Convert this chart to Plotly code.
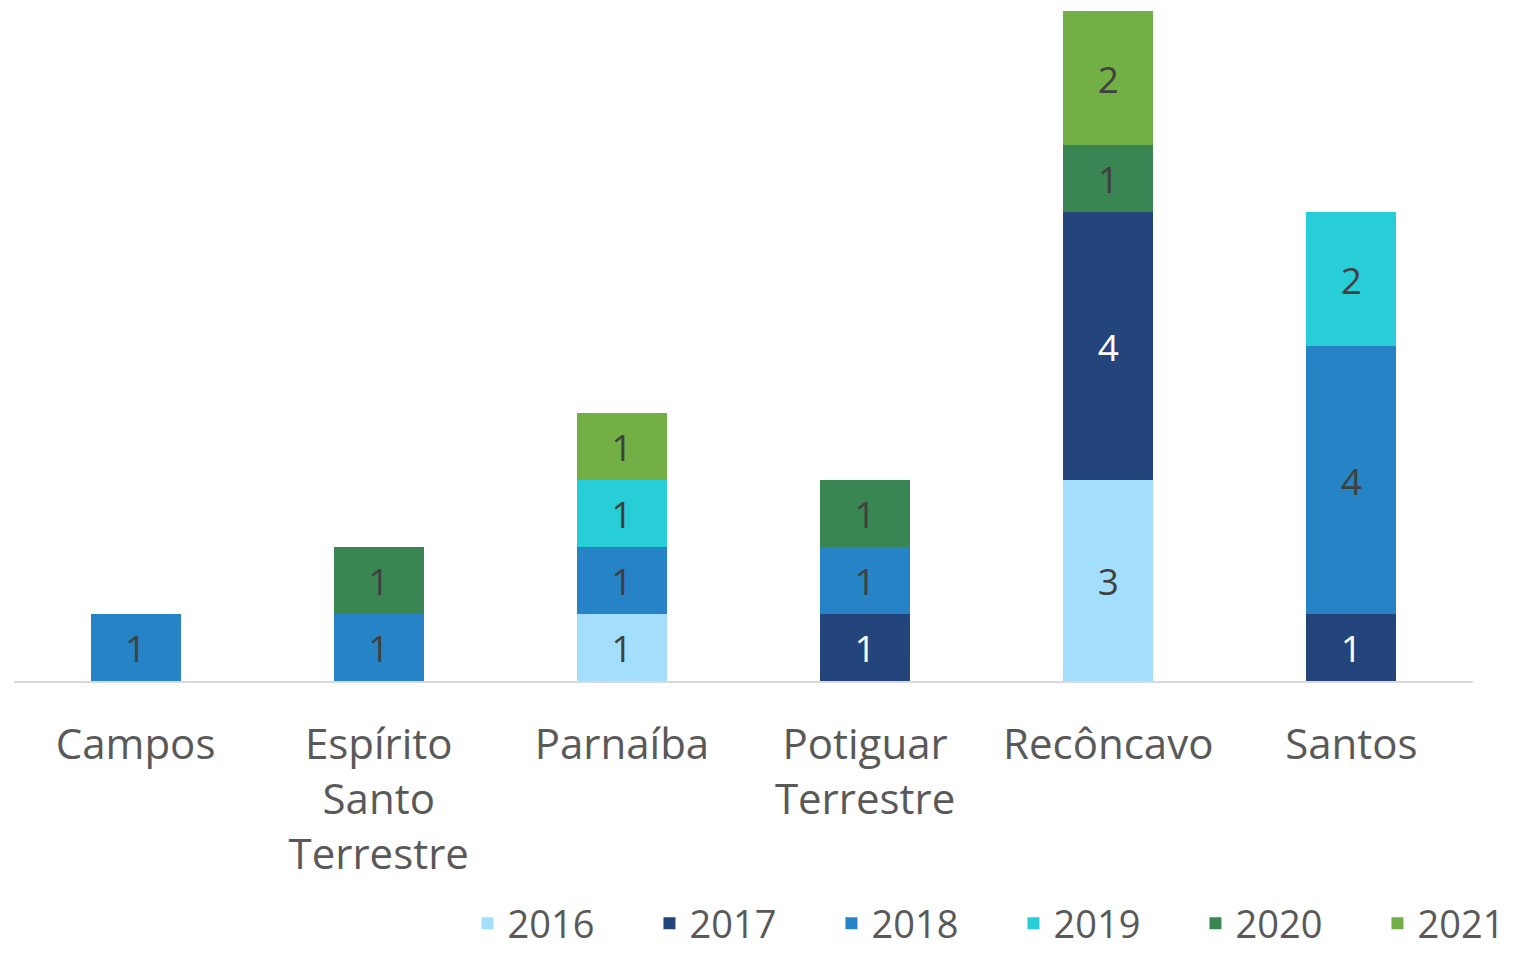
import plotly.graph_objects as go

categories = ["Campos", "Espírito<br>Santo<br>Terrestre", "Parnaíba", "Potiguar<br>Terrestre", "Recôncavo", "Santos"]
years = ["2016", "2017", "2018", "2019", "2020", "2021"]
v2016 = [None, None, 1, None, 3, None]
v2017 = [None, None, None, 1, 4, 1]
v2018 = [1, 1, 1, 1, None, 4]
v2019 = [None, None, 1, None, None, 2]
v2020 = [None, 1, None, 1, 1, None]
v2021 = [None, None, 1, None, 2, None]
series = [v2016, v2017, v2018, v2019, v2020, v2021]

colors = ["#A3DFFD", "#23457C", "#2683C6", "#27CED7", "#3A8653", "#72AF45"]
text_colors = ["#404040", "#FFFFFF", "#404040", "#404040", "#404040", "#404040"]

FONT = "Open Sans"
fig = go.Figure()
for name, vals, c, tc in zip(years, series, colors, text_colors):
    fig.add_trace(go.Bar(
        x=categories, y=vals, name=name,
        marker=dict(color=c, line=dict(width=0)),
        texttemplate="%{y}", textposition="inside", insidetextanchor="middle",
        textangle=0, constraintext="none",
        textfont=dict(family=FONT, size=37, color=tc),
    ))

fig.update_layout(
    barmode="stack", bargap=0.63,
    width=1506, height=947,
    margin=dict(l=6, r=41, t=3, b=274, autoexpand=False),
    paper_bgcolor="white", plot_bgcolor="white",
    font=dict(family=FONT, color="#595959"),
    showlegend=True,
    legend=dict(orientation="h", x=0.3108, xanchor="left", y=-0.362, yanchor="middle",
                font=dict(family=FONT, size=38, color="#595959"),
                traceorder="normal", entrywidth=137, entrywidthmode="pixels"),
    xaxis=dict(showline=True, linecolor="#D9D9D9", linewidth=2, ticks="",
               tickfont=dict(family=FONT, size=42, color="#595959"),
               ticklabelstandoff=26, showgrid=False, fixedrange=True, automargin=False),
    yaxis=dict(range=[0, 10], visible=False, showgrid=False, fixedrange=True, automargin=False),
)

fig.write_html("out.html")
